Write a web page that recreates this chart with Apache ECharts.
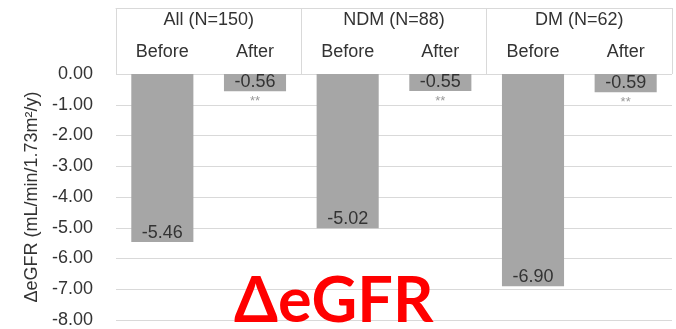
<!DOCTYPE html>
<html>
<head>
<meta charset="utf-8">
<script src="https://cdn.jsdelivr.net/npm/echarts@6/dist/echarts.min.js"></script>
<style>
  html, body { margin: 0; padding: 0; background: #fff; }
  #chart { width: 676px; height: 329px; }
</style>
</head>
<body>
<div id="chart"></div>
<script>
// data
const groups = ['All (N=150)', 'NDM (N=88)', 'DM (N=62)'];
const periods = ['Before', 'After', 'Before', 'After', 'Before', 'After'];
const deltaEgfr = [-5.46, -0.56, -5.02, -0.55, -6.90, -0.59];
const sigMarks = ['', '**', '', '**', '', '**'];
const yTicks = { min: -8, max: 0, step: 1 };

const font = 'Liberation Sans, Arial, sans-serif';
const lineGray = '#d9d9d9';
const textColor = '#333';

const chart = echarts.init(document.getElementById('chart'));

const option = {
  animation: false,
  grid: { left: 116, right: 4, top: 74, bottom: 7 },
  xAxis: [
    {
      type: 'category',
      data: periods,
      position: 'top',
      axisLine: { show: false },
      axisTick: { show: false },
      axisLabel: { margin: 13, fontSize: 18, fontFamily: font, color: textColor }
    },
    {
      type: 'category',
      data: groups,
      position: 'top',
      offset: 66,
      axisLine: { show: true, lineStyle: { color: lineGray, width: 1 } },
      axisTick: { show: true, inside: true, length: 66, lineStyle: { color: lineGray, width: 1 } },
      axisLabel: { inside: true, margin: 3, fontSize: 18, fontFamily: font, color: textColor }
    }
  ],
  yAxis: {
    type: 'value',
    min: yTicks.min,
    max: yTicks.max,
    interval: yTicks.step,
    name: 'ΔeGFR (mL/min/1.73m²/y)',
    nameLocation: 'middle',
    nameGap: 71,
    nameTextStyle: { fontSize: 18, fontFamily: font, color: textColor },
    axisLine: { show: false },
    axisTick: { show: false },
    axisLabel: {
      margin: 23, fontSize: 18, fontFamily: font, color: textColor,
      formatter: v => v.toFixed(2)
    },
    splitLine: { lineStyle: { color: lineGray, width: 1 } }
  },
  series: [
    {
      type: 'bar',
      data: deltaEgfr,
      barWidth: '67%',
      itemStyle: { color: '#a6a6a6' },
      label: {
        show: true,
        position: 'insideBottom',
        distance: 0,
        fontSize: 18,
        fontFamily: font,
        color: textColor,
        formatter: p => p.value.toFixed(2)
      }
    },
    {
      type: 'scatter',
      data: deltaEgfr,
      symbolSize: 0,
      silent: true,
      label: {
        show: true,
        position: 'bottom',
        distance: 4,
        fontSize: 13,
        color: '#808080',
        formatter: p => sigMarks[p.dataIndex]
      }
    }
  ],
  graphic: [
    {
      type: 'text',
      left: 344 - 110,
      top: 270,
      style: {
        text: 'ΔeGFR',
        fill: '#ff0000',
        font: 'bold 63px Lato, Liberation Sans, Arial, sans-serif',
        width: 220,
        align: 'center'
      },
      z: 100
    }
  ]
};

chart.setOption(option);
</script>
</body>
</html>
